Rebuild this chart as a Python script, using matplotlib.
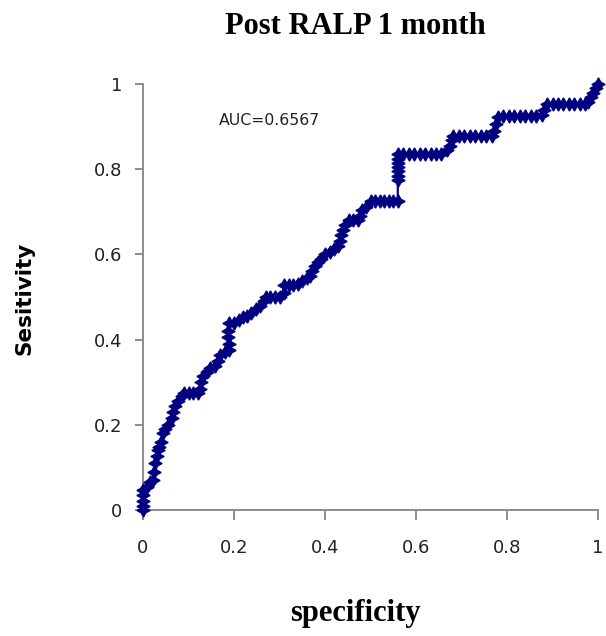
import matplotlib
matplotlib.use("Agg")
import matplotlib.pyplot as plt

title = "Post RALP 1 month"
xlabel = "specificity"
ylabel = "Sesitivity"
auc_text = "AUC=0.6567"
xticks = [0, 0.2, 0.4, 0.6, 0.8, 1]
xticklabels = ["0", "0.2", "0.4", "0.6", "0.8", "1"]
yticks = [0, 0.2, 0.4, 0.6, 0.8, 1]
yticklabels = ["0", "0.2", "0.4", "0.6", "0.8", "1"]

spec = [0, 0, 0, 0, 0, 0.008, 0.015, 0.022, 0.025, 0.027, 0.03, 0.033, 0.035,
        0.04, 0.044, 0.048, 0.055, 0.063, 0.067, 0.07, 0.078, 0.085, 0.09, 0.1,
        0.11, 0.12, 0.125, 0.128, 0.132, 0.14, 0.148, 0.158, 0.165, 0.17, 0.18,
        0.19, 0.188, 0.186, 0.186, 0.188, 0.2, 0.212, 0.22, 0.228, 0.238, 0.248,
        0.258, 0.265, 0.27, 0.28, 0.29, 0.3, 0.31, 0.31, 0.32, 0.33, 0.34, 0.35,
        0.36, 0.368, 0.372, 0.378, 0.385, 0.392, 0.4, 0.41, 0.42, 0.428, 0.432,
        0.436, 0.44, 0.445, 0.452, 0.462, 0.472, 0.478, 0.482, 0.49, 0.5, 0.51,
        0.52, 0.53, 0.54, 0.55, 0.56, 0.56, 0.56, 0.56, 0.56, 0.56, 0.56, 0.56,
        0.572, 0.584, 0.596, 0.608, 0.62, 0.632, 0.644, 0.656, 0.668, 0.675,
        0.68, 0.682, 0.694, 0.706, 0.718, 0.73, 0.742, 0.754, 0.766, 0.772,
        0.776, 0.78, 0.792, 0.804, 0.816, 0.828, 0.84, 0.852, 0.864, 0.876,
        0.882, 0.888, 0.9, 0.912, 0.924, 0.936, 0.948, 0.96, 0.972, 0.978,
        0.984, 0.99, 0.995, 1.0]
sens = [0, 0.01, 0.02, 0.035, 0.047, 0.055, 0.066, 0.07, 0.09, 0.11, 0.126,
        0.14, 0.148, 0.16, 0.18, 0.19, 0.2, 0.215, 0.23, 0.243, 0.255, 0.268,
        0.275, 0.275, 0.275, 0.275, 0.285, 0.3, 0.315, 0.325, 0.333, 0.338,
        0.35, 0.364, 0.37, 0.376, 0.39, 0.405, 0.42, 0.44, 0.44, 0.445, 0.452,
        0.455, 0.462, 0.472, 0.48, 0.49, 0.5, 0.5, 0.5, 0.5, 0.51, 0.528, 0.528,
        0.528, 0.53, 0.538, 0.545, 0.55, 0.56, 0.572, 0.582, 0.59, 0.6, 0.605,
        0.612, 0.62, 0.632, 0.645, 0.657, 0.668, 0.68, 0.68, 0.68, 0.69, 0.704,
        0.712, 0.725, 0.725, 0.725, 0.725, 0.725, 0.725, 0.725, 0.775, 0.785,
        0.795, 0.805, 0.815, 0.825, 0.836, 0.836, 0.836, 0.836, 0.836, 0.836,
        0.836, 0.836, 0.836, 0.845, 0.855, 0.868, 0.878, 0.878, 0.878, 0.878,
        0.878, 0.878, 0.878, 0.878, 0.89, 0.905, 0.922, 0.925, 0.925, 0.925,
        0.925, 0.925, 0.925, 0.925, 0.927, 0.94, 0.952, 0.952, 0.952, 0.952,
        0.952, 0.952, 0.952, 0.952, 0.958, 0.97, 0.98, 0.99, 1.0]

navy = "#000080"
gray = "#8c8c8c"

fig = plt.figure(figsize=(6.06, 6.36), dpi=100)
ax = fig.add_axes([143 / 606, 126 / 636, 455 / 606, 426 / 636])

ax.plot(spec, sens, color=navy, lw=1.6, marker=(4, 1, 0), markersize=9.5,
        markerfacecolor=navy, markeredgecolor=navy, markeredgewidth=1.0,
        clip_on=False, zorder=3)

ax.set_xlim(0, 1)
ax.set_ylim(0, 1)
for s in ["top", "right"]:
    ax.spines[s].set_visible(False)
for s in ["left", "bottom"]:
    ax.spines[s].set_color(gray)
    ax.spines[s].set_linewidth(1.4)

ax.set_xticks(xticks)
ax.set_xticklabels(xticklabels)
ax.set_yticks(yticks)
ax.set_yticklabels(yticklabels)
ax.tick_params(axis="x", direction="out", length=7, width=1.4, color=gray,
               pad=14, labelsize=13, labelcolor="#222222")
ax.tick_params(axis="y", direction="out", length=6, width=1.4, color=gray,
               pad=9, labelsize=13, labelcolor="#222222")

ax.text(0.167, 0.915, auc_text, transform=ax.transAxes, fontsize=11.3,
        color="#222222", va="center", ha="left")

fig.text(355 / 606, 1 - 27 / 636, title, ha="center", va="center",
         fontsize=22, fontweight="bold", family="Liberation Serif")
fig.text(355 / 606, 1 - 613 / 636, xlabel, ha="center", va="center",
         fontsize=22, fontweight="bold", family="Liberation Serif")
fig.text(25 / 606, 1 - 298 / 636, ylabel, ha="center", va="center",
         rotation=90, fontsize=15.5, fontweight="bold", family="DejaVu Sans")

fig.savefig("out.png", dpi=100)
